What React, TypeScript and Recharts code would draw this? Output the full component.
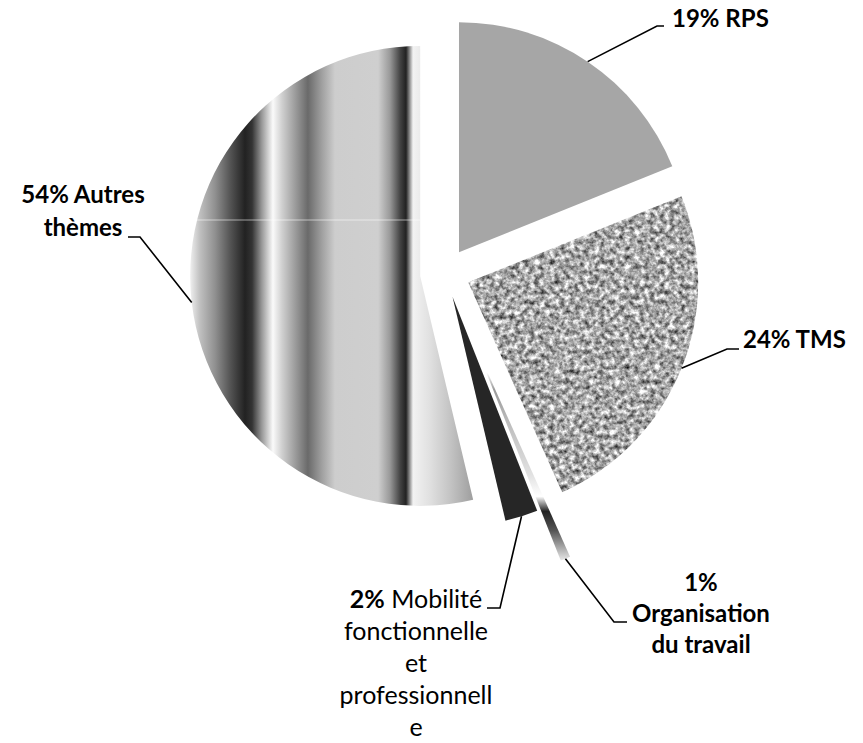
import React from 'react';
import { PieChart, Pie, Cell, Sector } from 'recharts';

// parts of the themes (percent)
const names = ['RPS', 'TMS', 'Organisation du travail', 'Mobilité fonctionnelle et professionnelle', 'Autres thèmes'];
const shares = [18.9, 24.4, 0.7, 2.3, 53.7];
const shownPct = ['19%', '24%', '1%', '2%', '54%'];
const labelText = [
  ['19% RPS'],
  ['24% TMS'],
  ['1%', 'Organisation', 'du travail'],
  ['2% Mobilité', 'fonctionnelle', 'et', 'professionnell', 'e'],
  ['54% Autres', 'thèmes'],
];
const nameBold = [true, true, true, false, true];

const data = names.map((name, i) => ({ name, value: shares[i] }));

// look
const fills = ['#a6a6a6', '#b0b0b0', 'url(#orgGrad)', '#262626', 'url(#autresFill)'];
const explode = [25, 25, 80, 25, 25];
const labelLayout = [
  { elbow: [657, 26], end: [664, 26], tx: 672, ty: 27, anchor: 'start', lh: 0 },
  { elbow: [727, 349], end: [739, 349], tx: 743, ty: 348, anchor: 'start', lh: 0 },
  { elbow: [614, 622], end: [627, 622], tx: 701, ty: 591, anchor: 'middle', lh: 31 },
  { elbow: [500, 608], end: [487, 608], tx: 416, ty: 608, anchor: 'middle', lh: 32 },
  { elbow: [140, 237], end: [128, 237], tx: 83, ty: 203, anchor: 'middle', lh: 33 },
];
const FONT = 'Lato, "Open Sans", sans-serif';
const RAD = Math.PI / 180;

const shift = (cx: number, cy: number, midAngle: number, d: number) => ({
  x: cx + d * Math.cos(-midAngle * RAD),
  y: cy + d * Math.sin(-midAngle * RAD),
});

const ExplodedSector = (props: any) => {
  const i = names.indexOf(props.name ?? props.payload?.name);
  const c = shift(props.cx, props.cy, props.midAngle, explode[i] ?? 0);
  const sector = <Sector {...props} cx={c.x} cy={c.y} stroke="none" />;
  if (i === 1) return <g filter="url(#noise)">{sector}</g>;
  return sector;
};

const renderLabel = (props: any) => {
  const { cx, cy, midAngle, outerRadius, index } = props;
  const lay = labelLayout[index];
  const p = shift(cx, cy, midAngle, explode[index] + outerRadius);
  const pct = shownPct[index];
  return (
    <g>
      <polyline
        points={`${p.x},${p.y} ${lay.elbow[0]},${lay.elbow[1]} ${lay.end[0]},${lay.end[1]}`}
        fill="none"
        stroke="#000"
        strokeWidth={1.6}
      />
      <text textAnchor={lay.anchor as any} fontFamily={FONT} fontSize={24} fill="#000">
        {labelText[index].map((line, k) => {
          const y = lay.ty + k * lay.lh;
          if (!nameBold[index] && k === 0 && line.startsWith(pct)) {
            return (
              <tspan key={k} x={lay.tx} y={y} fontSize={25}>
                <tspan fontWeight="bold">{pct}</tspan>
                <tspan>{line.slice(pct.length)}</tspan>
              </tspan>
            );
          }
          return (
            <tspan
              key={k}
              x={lay.tx}
              y={y}
              fontWeight={nameBold[index] ? 'bold' : 'normal'}
              fontSize={nameBold[index] ? 24 : 25}
            >
              {line}
            </tspan>
          );
        })}
      </text>
    </g>
  );
};

export default function App() {
  return (
    <div style={{ position: 'absolute', left: 0, top: 0, width: 863, height: 743, background: '#fff' }}>
      <PieChart width={863} height={743} margin={{ top: 0, right: 0, bottom: 0, left: 0 }}>
        <defs>
          <filter id="noise" x="0" y="0" width="100%" height="100%" colorInterpolationFilters="sRGB">
            <feTurbulence type="fractalNoise" baseFrequency="0.2" numOctaves={3} seed={7} result="t" />
            <feColorMatrix
              in="t"
              type="matrix"
              values="1.3 0 0 0 0.01  1.3 0 0 0 0.01  1.3 0 0 0 0.01  0 0 0 0 1"
              result="g"
            />
            <feGaussianBlur in="g" stdDeviation="0.45" result="b" />
            <feComposite in="b" in2="SourceGraphic" operator="in" />
          </filter>
          <linearGradient id="orgGrad" x1="0" y1="0" x2="0" y2="1">
            <stop offset="0" stopColor="#ffffff" />
            <stop offset="0.12" stopColor="#ffffff" />
            <stop offset="0.2" stopColor="#9a9a9a" />
            <stop offset="0.36" stopColor="#bdbdbd" />
            <stop offset="0.6" stopColor="#e2e2e2" />
            <stop offset="0.7" stopColor="#ffffff" />
            <stop offset="0.77" stopColor="#222222" />
            <stop offset="0.86" stopColor="#555555" />
            <stop offset="0.94" stopColor="#aaaaaa" />
            <stop offset="1" stopColor="#e8e8e8" />
          </linearGradient>
          <linearGradient id="autresGrad" gradientUnits="userSpaceOnUse" x1="190" y1="0" x2="472" y2="0">
            <stop offset="0" stopColor="#f0f0f0" />
            <stop offset="0.035" stopColor="#c0c0c0" />
            <stop offset="0.089" stopColor="#909090" />
            <stop offset="0.142" stopColor="#555555" />
            <stop offset="0.195" stopColor="#222222" />
            <stop offset="0.22" stopColor="#333333" />
            <stop offset="0.255" stopColor="#999999" />
            <stop offset="0.294" stopColor="#fafafa" />
            <stop offset="0.326" stopColor="#d0d0d0" />
            <stop offset="0.362" stopColor="#a8a8a8" />
            <stop offset="0.418" stopColor="#6a6a6a" />
            <stop offset="0.468" stopColor="#a0a0a0" />
            <stop offset="0.514" stopColor="#cdcdcd" />
            <stop offset="0.667" stopColor="#cfcfcf" />
            <stop offset="0.709" stopColor="#999999" />
            <stop offset="0.745" stopColor="#444444" />
            <stop offset="0.766" stopColor="#222222" />
            <stop offset="0.791" stopColor="#f2f2f2" />
            <stop offset="0.851" stopColor="#e0e0e0" />
            <stop offset="0.922" stopColor="#c4c4c4" />
            <stop offset="1" stopColor="#a0a0a0" />
          </linearGradient>
          <pattern id="autresFill" patternUnits="userSpaceOnUse" x="0" y="0" width="863" height="743">
            <rect x="0" y="0" width="863" height="743" fill="url(#autresGrad)" />
            <rect x="0" y="219.5" width="420" height="1" fill="#ffffff" opacity={0.55} />
          </pattern>
        </defs>
        <Pie
          data={data}
          dataKey="value"
          nameKey="name"
          cx={445}
          cy={273}
          outerRadius={230}
          startAngle={90}
          endAngle={-270}
          stroke="none"
          shape={ExplodedSector}
          inactiveShape={ExplodedSector}
          activeShape={ExplodedSector}
          label={renderLabel}
          labelLine={false}
          isAnimationActive={false}
        >
          {data.map((d, i) => (
            <Cell key={d.name} fill={fills[i]} />
          ))}
        </Pie>
      </PieChart>
    </div>
  );
}
